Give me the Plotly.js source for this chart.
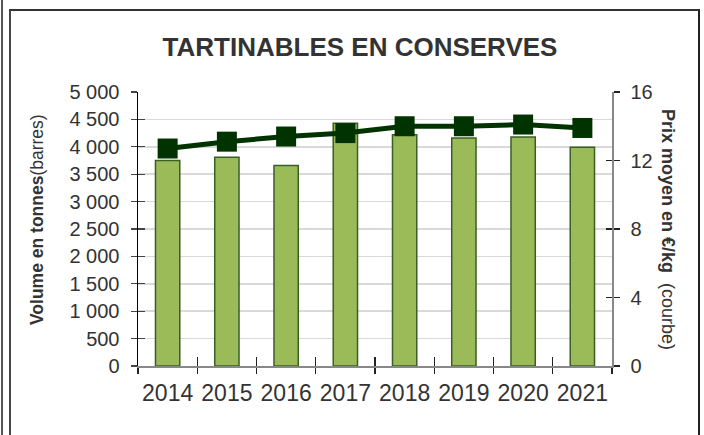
<!DOCTYPE html>
<html>
<head>
<meta charset="utf-8">
<script src="https://cdn.plot.ly/plotly-3.0.1.min.js"></script>
<style>
  html, body { margin: 0; padding: 0; background: #fff; }
  #wrap { position: relative; width: 704px; height: 435px; overflow: hidden; }
  #chart { position: absolute; left: 0; top: 0; width: 704px; height: 435px; }
  .frame1 { position: absolute; left: 1px; top: 0; width: 2px; height: 435px; background: #555; pointer-events: none; }
  .frame2 { position: absolute; left: 9px; top: 9px; width: 687px; height: 440px; border-left: 2px solid #444; border-top: 2px solid #333; border-right: 2px solid #222; pointer-events: none; }
</style>
</head>
<body>
<div id="wrap">
  <div id="chart"></div>
  <div class="frame1"></div>
  <div class="frame2"></div>
</div>
<script>
const years = ['2014', '2015', '2016', '2017', '2018', '2019', '2020', '2021'];
const volume = [3750, 3810, 3660, 4430, 4220, 4160, 4180, 3990];
const price = [12.7, 13.1, 13.4, 13.6, 14.0, 14.0, 14.1, 13.9];

const FONT = 'Liberation Sans, Arial, sans-serif';
const TXT = '#333333';

const traces = [
  {
    type: 'bar', x: years, y: volume, yaxis: 'y', xaxis: 'x',
    width: 0.41,
    marker: { color: '#9BBB59', line: { color: '#3A5F23', width: 1.5 } },
    hoverinfo: 'skip'
  },
  {
    type: 'scatter', mode: 'lines+markers', x: years, y: price, yaxis: 'y2', xaxis: 'x',
    line: { color: '#003300', width: 5 },
    marker: { symbol: 'square', size: 20, color: '#003300', line: { width: 0 } },
    hoverinfo: 'skip'
  },
  // empty helper traces so the tick-only overlay axes are drawn (no marks)
  { type: 'scatter', mode: 'none', x: [null], y: [null], xaxis: 'x2', yaxis: 'y3', hoverinfo: 'skip' },
  { type: 'scatter', mode: 'none', x: [null], y: [null], xaxis: 'x2', yaxis: 'y4', hoverinfo: 'skip' }
];

const layout = {
  width: 704, height: 435,
  margin: { l: 138, r: 92, t: 92, b: 69 },
  paper_bgcolor: 'rgba(0,0,0,0)', plot_bgcolor: '#ffffff',
  showlegend: false,
  separators: ', ',
  font: { family: FONT, color: TXT },
  title: {
    text: '<b>TARTINABLES EN CONSERVES</b>',
    font: { family: FONT, size: 26, color: TXT },
    xref: 'container', x: 360 / 704, xanchor: 'center',
    yref: 'container', y: 1 - 47 / 435, yanchor: 'middle'
  },
  bargap: 0.59,
  xaxis: {
    type: 'category', range: [-0.5, 7.5],
    tickson: 'boundaries', ticks: 'outside', ticklen: 6, tickcolor: '#222', tickwidth: 1.2,
    tickangle: 0, ticklabelstandoff: 6,
    showline: true, linecolor: '#888', linewidth: 1.5,
    showgrid: false, zeroline: false,
    tickfont: { family: FONT, size: 23, color: TXT },
    fixedrange: true
  },
  xaxis2: {
    overlaying: 'x', anchor: 'y', type: 'linear', range: [-0.5, 7.5], autorange: false,
    tickmode: 'linear', tick0: -0.5, dtick: 1, ticks: 'inside', ticklen: 9, tickcolor: '#222', tickwidth: 1.2,
    showticklabels: false, showline: false, showgrid: false, zeroline: false
  },
  yaxis: {
    range: [0, 5000], dtick: 500, tick0: 0, separatethousands: true,
    ticks: 'outside', ticklen: 6, tickcolor: '#444', tickwidth: 1.2,
    ticklabelstandoff: 7,
    showline: true, linecolor: '#000', linewidth: 1.5,
    showgrid: true, gridcolor: '#D9D9D9', gridwidth: 1.5, zeroline: false,
    tickfont: { family: FONT, size: 20, color: TXT },
    fixedrange: true
  },
  yaxis3: {
    overlaying: 'y', anchor: 'x2', side: 'left', range: [0, 5000], autorange: false,
    tickmode: 'linear', dtick: 500, tick0: 0,
    ticks: 'inside', ticklen: 7, tickcolor: '#444', tickwidth: 1.2,
    showticklabels: false, showline: false, showgrid: false, zeroline: false
  },
  yaxis2: {
    overlaying: 'y', side: 'right', anchor: 'x', range: [0, 16], dtick: 4, tick0: 0,
    ticks: 'outside', ticklen: 6, tickcolor: '#222', tickwidth: 1.2,
    ticklabelstandoff: 7,
    showline: true, linecolor: '#888', linewidth: 1.5,
    showgrid: false, zeroline: false,
    tickfont: { family: FONT, size: 20, color: TXT },
    fixedrange: true
  },
  yaxis4: {
    overlaying: 'y', side: 'right', anchor: 'x2', range: [0, 16], autorange: false,
    tickmode: 'linear', dtick: 4, tick0: 0,
    ticks: 'inside', ticklen: 6, tickcolor: '#222', tickwidth: 1.2,
    showticklabels: false, showline: false, showgrid: false, zeroline: false
  },
  annotations: [
    {
      text: '<b>Volume en tonnes</b>(barres)',
      xref: 'paper', yref: 'paper', x: (37 - 138) / 474, y: (366 - 220) / 274,
      xanchor: 'center', yanchor: 'middle', textangle: -90, showarrow: false,
      font: { family: FONT, size: 17.5, color: TXT }
    },
    {
      text: '<b>Prix moyen en €/kg</b>  (courbe)',
      xref: 'paper', yref: 'paper', x: (668 - 138) / 474, y: (366 - 229) / 274,
      xanchor: 'center', yanchor: 'middle', textangle: 90, showarrow: false,
      font: { family: FONT, size: 18, color: TXT }
    }
  ]
};

Plotly.newPlot('chart', traces, layout, { staticPlot: true, displayModeBar: false });
</script>
</body>
</html>
